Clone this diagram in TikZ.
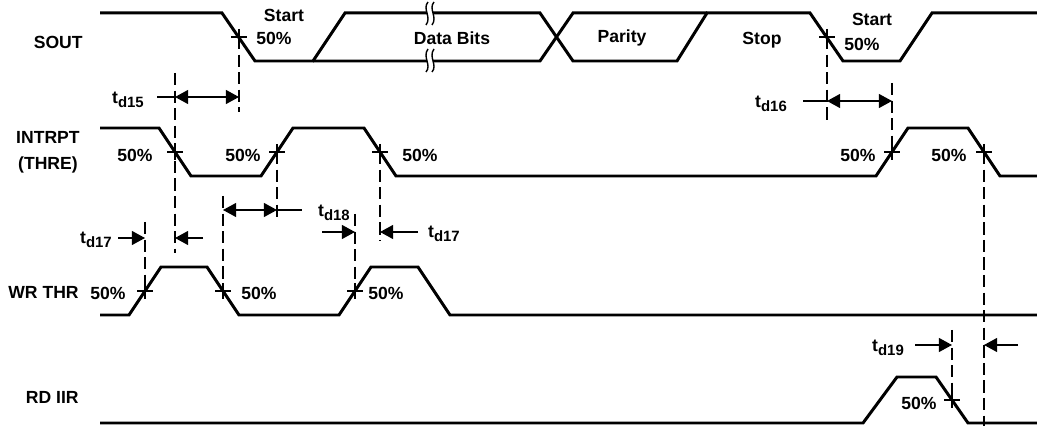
\documentclass[tikz,border=0pt]{standalone}
\usepackage{fontspec}
\setmainfont{Liberation Sans}
\usetikzlibrary{arrows.meta}
\tikzset{wave/.style = {line width=1.7pt, line join=miter}}
\tikzset{guide/.style = {line width=0.7pt, dash pattern=on 7pt off 3pt}}
\tikzset{dim/.style = {line width=0.7pt}}
\tikzset{dimarr/.style = {dim, -{Triangle[length=7.5pt,width=8pt]}}}
\tikzset{dimboth/.style = {dim, {Triangle[length=7.5pt,width=8pt]}-{Triangle[length=7.5pt,width=8pt]}}}
\tikzset{cross/.style = {line width=0.7pt}}
\tikzset{brk/.style = {line width=0.8pt}}
\tikzset{lbl/.style = {font=\bfseries, inner sep=0pt}}
\newcommand{\tdly}[1]{t\raisebox{-0.5ex}{\fontsize{8.5}{10}\selectfont d#1}}
\newcommand{\xmark}[1]{\draw[cross] (#1) +(-8,0) -- +(8,0) (#1) +(0,-8) -- +(0,8);}

\begin{document}
\begin{tikzpicture}[x=0.02cm, y=-0.02cm]
        \useasboundingbox (0,0) rectangle (1037,428);
        % signal names
        \node[lbl, anchor=east] (sout) at (83,42) {SOUT};
        \node[lbl, anchor=east, align=center] (intrpt) at (80,152) {INTRPT\\[3pt](THRE)};
        \node[lbl, anchor=east] (wrthr) at (79,292) {WR THR};
        \node[lbl, anchor=east] (rdiir) at (79,397) {RD IIR};
        % SOUT
        \draw[wave] (100,13) -- (222,13) -- (255,61) -- (313,61) -- (345,13) -- (540,13)
          -- (573,61) -- (677,61) -- (707,13) -- (810,13) -- (843,61) -- (900,61)
          -- (932,13) -- (1037,13);
        \draw[wave] (313,61) -- (540,61) -- (573,13) -- (707,13);
        \fill[white] (427,8) rectangle (433,18);
        \fill[white] (427,56) rectangle (433,66);
        \foreach \bx in {427,433} {
          \draw[brk] (\bx+1,2) .. controls (\bx-5,9) and (\bx+5,17) .. (\bx-1,25);
          \draw[brk] (\bx+1,49) .. controls (\bx-5,57) and (\bx+5,65) .. (\bx-1,72);
        }
        \node[lbl] (start1) at (284,15) {Start};
        \node[lbl] (pc1) at (274,38) {50\%};
        \node[lbl] (data) at (452,38) {Data Bits};
        \node[lbl] (parity) at (622,38) {Parity};
        \node[lbl] (stop) at (762,40) {Stop};
        \node[lbl] (start2) at (872,19) {Start};
        \node[lbl] (pc2) at (862,44) {50\%};
        % INTRPT (THRE)
        \draw[wave] (100,128) -- (159,128) -- (191,176) -- (261,176) -- (293,128) -- (364,128)
          -- (396,176) -- (876,176) -- (908,128) -- (968,128) -- (1000,176) -- (1037,176);
        \node[lbl] (pc3) at (135,155) {50\%};
        \node[lbl] (pc4) at (243,155) {50\%};
        \node[lbl] (pc5) at (420,155) {50\%};
        \node[lbl] (pc6) at (858,155) {50\%};
        \node[lbl] (pc7) at (949,155) {50\%};
        % WR THR
        \draw[wave] (100,315) -- (129,315) -- (161,267) -- (207,267) -- (239,315) -- (339,315)
          -- (371,267) -- (418,267) -- (450,315) -- (1037,315);
        \node[lbl] (pc8) at (108,293) {50\%};
        \node[lbl] (pc9) at (259,293) {50\%};
        \node[lbl] (pc10) at (386,293) {50\%};
        % RD IIR
        \draw[wave] (100,423) -- (863,423) -- (897,377) -- (936,377) -- (968,423) -- (1037,423);
        \node[lbl] (pc11) at (919,403) {50\%};
        % 50% points
        \coordinate (s1) at (239,37);
        \coordinate (s2) at (827,37);
        \coordinate (i1) at (175,152);
        \coordinate (i2) at (277,152);
        \coordinate (i3) at (380,152);
        \coordinate (i4) at (892,152);
        \coordinate (i5) at (984,152);
        \coordinate (w1) at (145,291);
        \coordinate (w2) at (223,291);
        \coordinate (w3) at (355,291);
        \coordinate (r1) at (952,400);
        \foreach \p in {s1,s2,i1,i2,i3,i4,i5,w1,w2,w3,r1} {\xmark{\p}}
        % guide lines
        \draw[guide] (175,73) -- (i1) -- (175,253);
        \draw[guide] (s1) -- (239,112);
        \draw[guide] (i2) -- (277,222);
        \draw[guide] (i3) -- (380,240);
        \draw[guide] (223,196) -- (w2);
        \draw[guide] (145,222) -- (w1);
        \draw[guide] (355,214) -- (w3);
        \draw[guide] (s2) -- (827,120);
        \draw[guide] (892,83) -- (i4);
        \draw[guide] (i5) -- (984,426);
        \draw[guide] (952,330) -- (r1);
        % t_d15
        \node[lbl] (t15) at (128,100) {\tdly{15}};
        \coordinate (a15) at (175,97);
        \coordinate (b15) at (239,97);
        \draw[dim] (157,97) -- (a15);
        \draw[dimboth] (a15) -- (b15);
        % t_d16
        \node[lbl] (t16) at (771,104) {\tdly{16}};
        \coordinate (a16) at (827,101);
        \coordinate (b16) at (892,101);
        \draw[dim] (803,101) -- (a16);
        \draw[dimboth] (a16) -- (b16);
        % t_d18
        \node[lbl] (t18) at (334,213) {\tdly{18}};
        \coordinate (a18) at (223,210);
        \coordinate (b18) at (277,210);
        \draw[dimboth] (a18) -- (b18);
        \draw[dim] (b18) -- (302,210);
        % t_d17 (left)
        \node[lbl] (t17a) at (96,240) {\tdly{17}};
        \coordinate (a17) at (145,238);
        \coordinate (b17) at (175,238);
        \draw[dimarr] (118,238) -- (a17);
        \draw[dimarr] (203,238) -- (b17);
        % t_d17 (right)
        \node[lbl] (t17b) at (444,234) {\tdly{17}};
        \coordinate (c17) at (355,232);
        \coordinate (d17) at (380,232);
        \draw[dimarr] (322,232) -- (c17);
        \draw[dimarr] (418,232) -- (d17);
        % t_d19
        \node[lbl] (t19) at (888,348) {\tdly{19}};
        \coordinate (a19) at (952,345);
        \coordinate (b19) at (984,345);
        \draw[dimarr] (915,345) -- (a19);
        \draw[dimarr] (1018,345) -- (b19);
\end{tikzpicture}
\end{document}
